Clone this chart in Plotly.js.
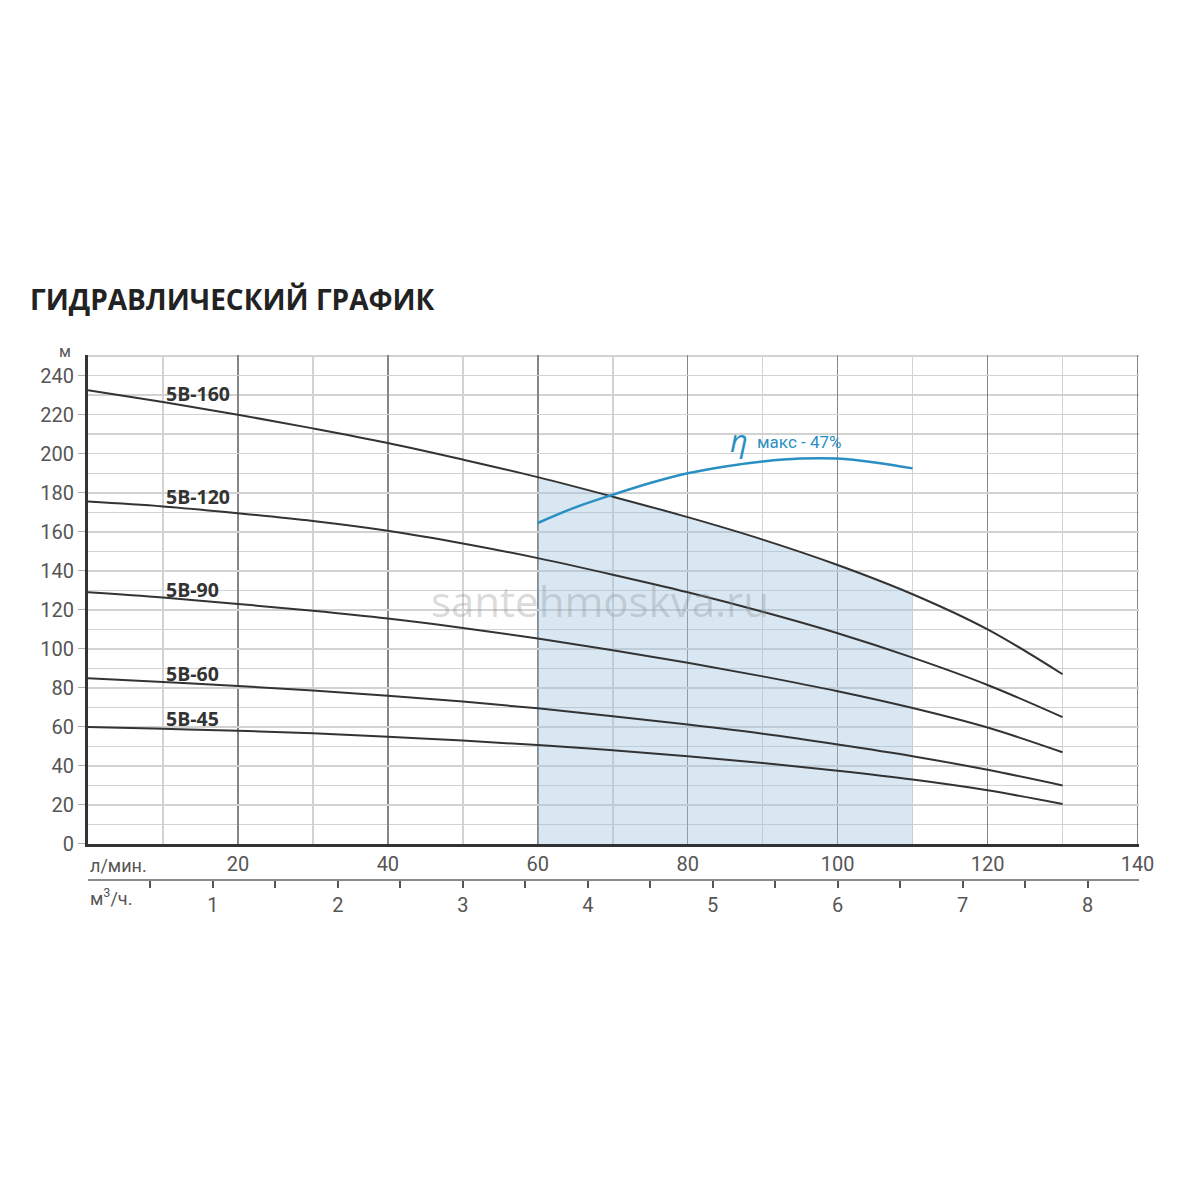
<!DOCTYPE html>
<html>
<head>
<meta charset="utf-8">
<script src="https://cdn.plot.ly/plotly-3.0.1.min.js"></script>
<style>html,body{margin:0;padding:0;background:#fff;}#chart{width:1200px;height:1200px;}</style>
</head>
<body>
<div id="chart"></div>
<script>
// Flow, l/min
const flowLpm = [0, 10, 20, 30, 40, 50, 60, 70, 80, 90, 100, 110, 120, 130];
// Head, m
const head5B160 = [232.5, 226.5, 220, 213, 205.5, 197, 188, 178, 167.5, 156, 143, 128, 110, 87];
const head5B120 = [175.5, 173, 169.5, 165.5, 160.5, 154, 146.5, 138, 129, 119, 108, 95.5, 81.5, 65];
const head5B90  = [129, 126.3, 123, 119.5, 115.5, 110.7, 105.3, 99.3, 92.9, 85.9, 78.3, 69.7, 59.7, 47];
const head5B60  = [85, 83, 81, 78.7, 76, 73, 69.5, 65.5, 61.2, 56.5, 51, 45, 38, 30];
const head5B45  = [60, 59, 58, 56.7, 55, 53, 50.7, 48, 45, 41.5, 37.5, 33, 27.5, 20.5];
const seriesNames = ['5B-160', '5B-120', '5B-90', '5B-60', '5B-45'];
// Efficiency curve (drawn on head scale)
const etaFlow = [60, 65, 70, 75, 80, 85, 90, 95, 100, 105, 110];
const etaHead = [164.5, 172.5, 179, 185, 190, 193.5, 196, 197.5, 197.5, 195.5, 192.5];
// Working range (l/min)
const workRange = [60, 110];
// Tick labels
const yTickVals = [0, 20, 40, 60, 80, 100, 120, 140, 160, 180, 200, 220, 240];
const xTickVals = [20, 40, 60, 80, 100, 120, 140];
const m3hTickVals = [1, 2, 3, 4, 5, 6, 7, 8];
const lpmToM3h = 0.06;

const heads = [head5B160, head5B120, head5B90, head5B60, head5B45];
const lineColor = '#333333';
const etaColor = '#2a8fc2';
const xMax = 140.2;

const fillX = [], fillY = [];
flowLpm.forEach((f, i) => { if (f >= workRange[0] && f <= workRange[1]) { fillX.push(f); fillY.push(head5B160[i]); } });

const traces = [];
traces.push({
  x: fillX, y: fillY, type: 'scatter', mode: 'lines',
  line: {width: 0, shape: 'spline'}, fill: 'tozeroy',
  fillcolor: 'rgba(160,195,222,0.40)', hoverinfo: 'skip', showlegend: false
});
heads.forEach((h, k) => {
  traces.push({
    x: flowLpm, y: h, type: 'scatter', mode: 'lines', name: seriesNames[k],
    line: {color: lineColor, width: 2, shape: 'spline'}, showlegend: false
  });
});
traces.push({
  x: etaFlow, y: etaHead, type: 'scatter', mode: 'lines', name: 'η',
  line: {color: etaColor, width: 2.5, shape: 'spline'}, showlegend: false
});
// carrier for the m³/h axis
traces.push({
  x: [0, xMax * lpmToM3h], y: [null, null], xaxis: 'x2', yaxis: 'y',
  type: 'scatter', mode: 'lines', hoverinfo: 'skip', showlegend: false
});

const labelFont = {family: 'Open Sans, sans-serif', size: 19.5, color: '#333'};
const labelPos = [[10.2, 231], [10.2, 178], [10.2, 130.5], [10.2, 87.5], [10.2, 64.5]];
const annotations = seriesNames.map((n, k) => ({
  x: labelPos[k][0], y: labelPos[k][1], xref: 'x', yref: 'y', text: '<b>' + n + '</b>',
  showarrow: false, xanchor: 'left', yanchor: 'middle', font: labelFont
}));
annotations.push(
  {x: 86.8, y: 207, xref: 'x', yref: 'y', text: '<i>η</i>', showarrow: false, xanchor: 'center', yanchor: 'middle',
   font: {family: 'Open Sans, sans-serif', size: 31, color: etaColor}},
  {x: 89.0, y: 206, xref: 'x', yref: 'y', text: 'макс - 47%', showarrow: false, xanchor: 'left', yanchor: 'middle',
   font: {family: 'Roboto, sans-serif', size: 17, color: etaColor}},
  {x: 0, y: 0.027, xref: 'paper', yref: 'paper', text: 'л/мин.', showarrow: false, xanchor: 'left', yanchor: 'middle',
   font: {family: 'Roboto, sans-serif', size: 18, color: '#555'}},
  {x: 0, y: -0.032, xref: 'paper', yref: 'paper', text: 'м<sup>3</sup>/ч.', showarrow: false, xanchor: 'left', yanchor: 'middle',
   font: {family: 'Roboto, sans-serif', size: 18, color: '#555'}},
  {x: -0.022, y: 1.006, xref: 'paper', yref: 'paper', text: 'м', showarrow: false, xanchor: 'center', yanchor: 'middle',
   font: {family: 'Roboto, sans-serif', size: 16, color: '#555'}},
  {x: 0.487, y: 0.533, xref: 'paper', yref: 'paper', text: 'santehmoskva.ru', showarrow: false, xanchor: 'center', yanchor: 'middle',
   font: {family: 'Open Sans, sans-serif', size: 42, color: 'rgba(140,140,140,0.32)'}}
);

const layout = {
  width: 1200, height: 1200,
  paper_bgcolor: '#ffffff', plot_bgcolor: '#ffffff',
  margin: {l: 88, r: 61, t: 355, b: 320, pad: 0},
  title: {
    text: '<b>ГИДРАВЛИЧЕСКИЙ ГРАФИК</b>', xref: 'container', yref: 'container',
    x: 0.025, y: 0.75, xanchor: 'left', yanchor: 'middle',
    font: {family: 'Open Sans, sans-serif', size: 28, color: '#222'}
  },
  showlegend: false,
  xaxis: {
    range: [0, xMax], tickvals: xTickVals, ticks: '',
    showgrid: true, gridcolor: '#858585', gridwidth: 1.5,
    minor: {tick0: 0, dtick: 10, showgrid: true, gridcolor: '#d2d2d2', gridwidth: 1.5},
    showline: true, linecolor: '#333', linewidth: 3, zeroline: false,
    tickfont: {family: 'Roboto, sans-serif', size: 20, color: '#555'},
    fixedrange: true
  },
  xaxis2: {
    overlaying: 'x', anchor: 'free', position: 0, side: 'bottom',
    range: [0, xMax * lpmToM3h], tickvals: m3hTickVals,
    ticks: 'outside', ticklen: 7, tickwidth: 2, tickcolor: '#555',
    minor: {tick0: 0.5, dtick: 1, ticks: 'outside', ticklen: 7, tickwidth: 2, tickcolor: '#555', showgrid: false},
    showgrid: false, zeroline: false,
    showline: true, linecolor: '#8a8a8a', linewidth: 2,
    tickfont: {family: 'Roboto, sans-serif', size: 20, color: '#555'},
    fixedrange: true
  },
  yaxis: {
    domain: [0.0686, 1], range: [0, 250.6], tickvals: yTickVals,
    ticks: 'outside', ticklen: 7, tickwidth: 1, tickcolor: '#b0b0b0',
    showgrid: true, gridcolor: '#d2d2d2', gridwidth: 1.5,
    minor: {tick0: 0, dtick: 10, showgrid: true, gridcolor: '#d2d2d2', gridwidth: 1.5},
    showline: true, linecolor: '#333', linewidth: 3, zeroline: false,
    tickfont: {family: 'Roboto, sans-serif', size: 20, color: '#555'},
    fixedrange: true
  },
  annotations: annotations
};

Plotly.newPlot('chart', traces, layout, {staticPlot: true, displayModeBar: false});
</script>
</body>
</html>
